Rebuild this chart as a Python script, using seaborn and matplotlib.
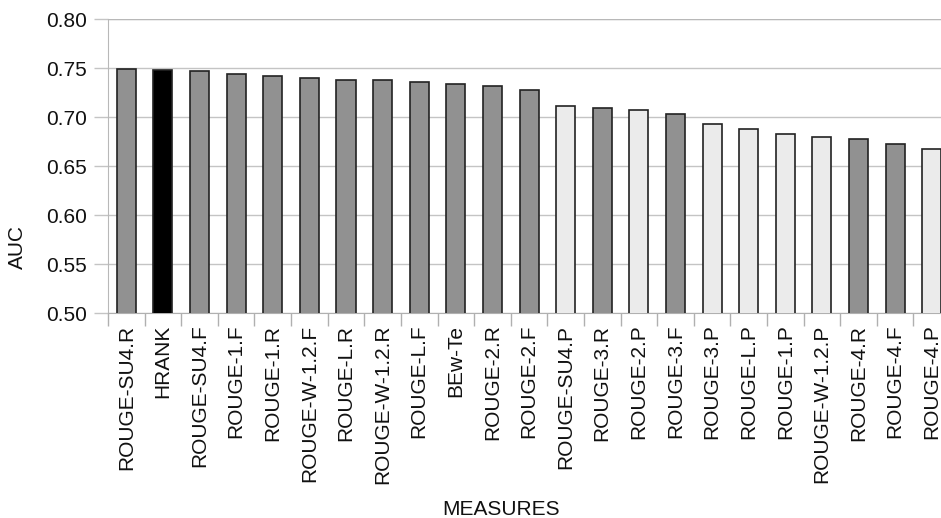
import matplotlib
matplotlib.use("Agg")
import matplotlib.pyplot as plt
import numpy as np
import pandas as pd
import seaborn as sns
from matplotlib.ticker import MultipleLocator, FixedLocator

# Measures and their AUC values
measures = ["ROUGE-SU4.R", "HRANK", "ROUGE-SU4.F", "ROUGE-1.F", "ROUGE-1.R",
            "ROUGE-W-1.2.F", "ROUGE-L.R", "ROUGE-W-1.2.R", "ROUGE-L.F", "BEw-Te",
            "ROUGE-2.R", "ROUGE-2.F", "ROUGE-SU4.P", "ROUGE-3.R", "ROUGE-2.P",
            "ROUGE-3.F", "ROUGE-3.P", "ROUGE-L.P", "ROUGE-1.P", "ROUGE-W-1.2.P",
            "ROUGE-4.R", "ROUGE-4.F", "ROUGE-4.P"]
auc = [0.749, 0.748, 0.747, 0.744, 0.742,
       0.740, 0.738, 0.738, 0.736, 0.734,
       0.732, 0.728, 0.711, 0.709, 0.707,
       0.703, 0.693, 0.688, 0.683, 0.680,
       0.678, 0.673, 0.668]
# bar kind: "R/F" -> dark gray, "P" -> light gray, HRANK -> black
kind = ["RF", "HRANK", "RF", "RF", "RF",
        "RF", "RF", "RF", "RF", "RF",
        "RF", "RF", "P", "RF", "P",
        "RF", "P", "P", "P", "P",
        "RF", "RF", "P"]
kind_colors = {"RF": "#919191", "HRANK": "#000000", "P": "#ebebeb"}

df = pd.DataFrame({"measure": measures, "auc": auc, "kind": kind})

sns.set_style("white")
plt.rcParams["font.family"] = ["Liberation Sans", "DejaVu Sans"]

fig = plt.figure(figsize=(9.41, 5.18), dpi=100)
ax = fig.add_axes([0.1148, 0.3948, 0.8948, 0.5685])

sns.barplot(data=df, x="measure", y="auc", hue="kind", palette=kind_colors,
            width=0.52, edgecolor="#222222", linewidth=1.2, legend=False,
            dodge=False, ax=ax, zorder=3)

ax.set_ylim(0.5, 0.8)
ax.set_xlim(-0.5, len(measures) - 0.5)
ax.yaxis.set_major_locator(MultipleLocator(0.05))
ax.yaxis.set_major_formatter(matplotlib.ticker.FormatStrFormatter("%.2f"))
ax.grid(axis="y", color="#c4c4c4", linewidth=1.0, zorder=0)
ax.set_axisbelow(True)

# x ticks: labels at centers, tick marks between categories
ax.xaxis.set_minor_locator(FixedLocator(np.arange(-0.5, len(measures), 1.0)))
ax.tick_params(axis="x", which="major", length=0, pad=8, labelsize=15,
               rotation=90, labelcolor="#111111")
ax.tick_params(axis="x", which="minor", length=9, width=1, color="#b0b0b0",
               direction="out", bottom=True)
ax.tick_params(axis="y", which="major", length=10, width=1, color="#c4c4c4",
               pad=5, labelsize=15, left=True, labelcolor="#111111")

for side in ["top", "right"]:
    ax.spines[side].set_visible(False)
ax.spines["left"].set_color("#b8b8b8")
ax.spines["bottom"].set_color("#b0b0b0")
ax.axhline(0.8, color="#b8b8b8", linewidth=1.6, zorder=1)

ax.set_ylabel("AUC", fontsize=15, color="#111111")
ax.yaxis.set_label_coords(-0.0966, 0.226)
ax.set_xlabel("MEASURES", fontsize=15, color="#111111")
ax.xaxis.set_label_coords(0.467, -0.633)

fig.savefig("out.png", dpi=100)
